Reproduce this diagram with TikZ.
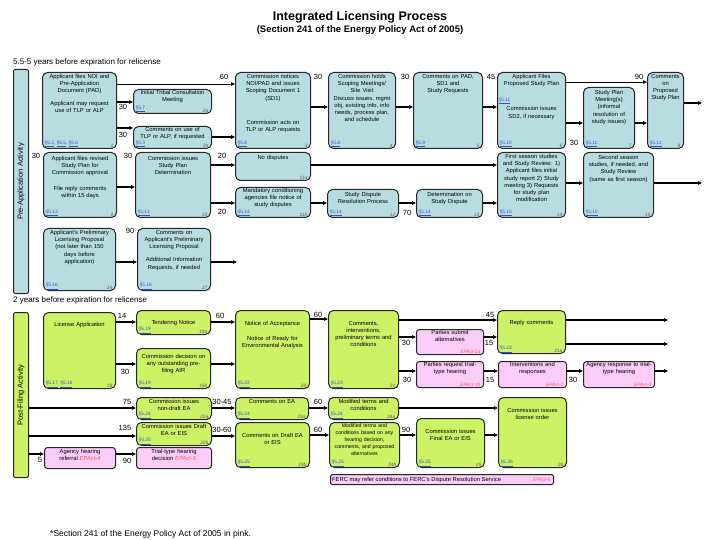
\documentclass[tikz,border=0pt]{standalone}
\usepackage{fontspec}
\setmainfont{Liberation Sans}
\usetikzlibrary{arrows.meta,positioning,calc}
\definecolor{prefill}{HTML}{B8DDE1}
\definecolor{postfill}{HTML}{CCF266}
\definecolor{epfill}{HTML}{FACCF8}
\definecolor{reflink}{HTML}{2F56C8}
\definecolor{idink}{HTML}{6A4B72}
\definecolor{epink}{HTML}{FF5A5A}

\tikzset{
  stage/.style={draw=black!85,line width=1pt,rounded corners=5pt,inner sep=0pt},
  prebox/.style={stage,fill=prefill},
  postbox/.style={stage,fill=postfill},
  epbox/.style={stage,fill=epfill,rounded corners=3pt},
  boxtext/.style={font=\fontsize{5.8}{7.2}\selectfont,align=center,inner sep=0pt},
  reftext/.style={font=\fontsize{4.8}{5}\selectfont,text=reflink,inner sep=1.5pt},
  numtext/.style={font=\fontsize{4.8}{5}\selectfont\itshape,text=idink,inner sep=1.5pt},
  days/.style={font=\fontsize{7.5}{8}\selectfont,inner sep=0pt},
  barlabel/.style={font=\fontsize{7.5}{8}\selectfont,rotate=90},
  flow/.style={-{Triangle[length=4pt,width=3.5pt]},line width=1.1pt},
  thinflow/.style={flow,line width=0.7pt}
}

\newcommand{\sref}[1]{\underline{§#1}}
\newcommand{\epact}[1]{\textcolor{epink}{\itshape #1}}
% [text offset]{name}{x,y}{width}{height}{style}{text}{section}{number}
\newcommand{\ilpbox}[9][2]{%
  \pgfmathsetmacro{\ilptw}{#4-5}%
  \node[#6,anchor=north west,minimum width=#4pt,minimum height=#5pt] (#2) at (#3) {};
  \node[boxtext,text width=\ilptw pt,anchor=north] (#2-t) at ([yshift=-#1pt]#2.north) {#7};
  \node[reftext,anchor=south west] (#2-r) at ([xshift=1pt]#2.south west) {#8};
  \node[numtext,anchor=south east] (#2-n) at ([xshift=-2pt]#2.south east) {#9};%
}
\newcommand{\hconn}[4][flow]{\draw[#1] (#2.east |- 0,#4) -- (#3.west |- 0,#4);}

\begin{document}
\begin{tikzpicture}[x=1pt,y=-1pt,font=\fontsize{5.8}{7.2}\selectfont]
  \fill[white] (0,0) rectangle (720,540);

  \node[font=\fontsize{12.5}{14}\selectfont\bfseries] (title) at (360,17) {Integrated Licensing Process};
  \node[font=\fontsize{9.5}{11}\selectfont\bfseries] (subtitle) at (360,30) {(Section 241 of the Energy Policy Act of 2005)};
  \node[font=\fontsize{8}{9}\selectfont,anchor=west,inner sep=0pt] (prehead) at (13,62) {5.5-5 years before expiration for relicense};

  % pre-application activity
  \node[prebox,rounded corners=2pt,anchor=north west,minimum width=15pt,minimum height=224pt] (prebar) at (13,69) {};
  \node[barlabel] (prebar-t) at (prebar.center) {Pre-Application Activity};

  \ilpbox{n1}{42,72}{74}{76}{prebox}{Applicant files NOI and\\Pre-Application\\Document (PAD)\\[5pt]Applicant may request\\use of TLP or ALP}{\sref{5.3}, \sref{5.5}, \sref{5.6}}{1}
  \ilpbox[1]{n2a}{133,89}{78}{24}{prebox}{Initial Tribal Consultation\\Meeting}{\sref{5.7}}{2a}
  \ilpbox[1]{n2b}{133,126}{78}{22}{prebox}{Comments on use of\\TLP or ALP, if requested}{\sref{5.3}}{2b}
  \ilpbox{n3}{235,72}{75}{76}{prebox}{Commission notices\\NOI/PAD and issues\\Scoping Document 1\\(SD1)\\[17pt]Commission acts on\\TLP or ALP requests}{\sref{5.8}}{3}
  \ilpbox{n4}{328,72}{67}{76}{prebox}{Commission holds\\Scoping Meetings/\\Site Visit\\Discuss issues, mgmt\\obj, existing info, info\\needs, process plan,\\and schedule}{\sref{5.8}}{4}
  \ilpbox{n5}{413,72}{69}{76}{prebox}{Comments on PAD,\\SD1 and\\Study Requests}{\sref{5.9}}{5}
  \ilpbox{n6}{497,72}{68}{76}{prebox}{Applicant Files\\Proposed Study Plan\\[18pt]Commission issues\\SD2, if necessary}{\sref{5.10}}{6}
  \node[reftext,anchor=west] (n6-r2) at (n6.west |- 0,101) {\sref{5.11}};
  \ilpbox[3]{n7}{583,87}{51}{61}{prebox}{Study Plan\\Meeting(s)\\(informal\\resolution of\\study issues)}{\sref{5.11}}{7}
  \ilpbox{n8}{647,72}{36}{76}{prebox}{Comments\\on\\Proposed\\Study Plan}{\sref{5.12}}{8}

  \ilpbox[4]{n9}{43,152}{73}{65}{prebox}{Applicant files revised\\Study Plan for\\Commission approval\\[8pt]File reply comments\\within 15 days}{\sref{5.13}}{9}
  \ilpbox[4]{n10}{135,152}{75}{65}{prebox}{Commission issues\\Study Plan\\Determination}{\sref{5.13}}{10}
  \ilpbox[3]{n11a}{235,152}{75}{28}{prebox}{No disputes}{}{11a}
  \ilpbox[1]{n11b}{235,187}{75}{30}{prebox}{Mandatory conditioning\\agencies file notice of\\study disputes}{\sref{5.14}}{11b}
  \ilpbox[3]{n12}{327,189}{71}{28}{prebox}{Study Dispute\\Resolution Process}{\sref{5.14}}{12}
  \ilpbox[3]{n13}{416,189}{66}{28}{prebox}{Determination on\\Study Dispute}{\sref{5.14}}{13}
  \ilpbox[2]{n14}{497,152}{68}{65}{prebox}{First season studies\\and Study Review: 1)\\Applicant files initial\\study report 2) Study\\meeting 3) Requests\\for study plan\\modification}{\sref{5.15}}{14}
  \ilpbox[3]{n15}{583,152}{70}{65}{prebox}{Second season\\studies, if needed, and\\Study Review\\(same as first season)}{\sref{5.15}}{15}

  \ilpbox[2]{n16}{43,228}{72}{62}{prebox}{Applicant's Preliminary\\Licensing Proposal\\(not later than 150\\days before\\application)}{\sref{5.16}}{16}
  \ilpbox[2]{n17}{137,228}{73}{62}{prebox}{Comments on\\Applicant's Preliminary\\Licensing Proposal\\[6pt]Additional Information\\Requests, if needed}{\sref{5.16}}{17}

  \hconn[thinflow]{n1}{n3}{84}
  \hconn{n1}{n2a}{102}
  \hconn{n1}{n2b}{128}
  \hconn{n2b}{n3}{137}
  \hconn{n3}{n4}{107}
  \hconn{n4}{n5}{107}
  \hconn{n5}{n6}{107}
  \hconn[thinflow]{n6}{n8}{82}
  \hconn{n6}{n7}{123}
  \hconn{n7}{n8}{123}
  \coordinate (out8) at (702,103);
  \draw[flow] (n8.east |- out8) -- (out8);
  \hconn{n9}{n10}{187}
  \hconn{n10}{n11a}{165}
  \hconn{n10}{n11b}{203}
  \hconn{n11b}{n12}{203}
  \hconn{n12}{n13}{203}
  \hconn{n11a}{n14}{165}
  \hconn{n13}{n14}{203}
  \hconn{n14}{n15}{183}
  \coordinate (out15) at (702,183);
  \draw[flow] (n15.east |- out15) -- (out15);
  \hconn{n16}{n17}{262}
  \coordinate (out17) at (237,262);
  \draw[flow] (n17.east |- out17) -- (out17);

  \node[days] (d1) at (224,77) {60};
  \node[days] (d2) at (123,107) {30};
  \node[days] (d3) at (123,135) {30};
  \node[days] (d4) at (318,77) {30};
  \node[days] (d5) at (405,77) {30};
  \node[days] (d6) at (491,77) {45};
  \node[days] (d7) at (639,77) {90};
  \node[days] (d8) at (574,143) {30};
  \node[days] (d9) at (36,156) {30};
  \node[days] (d10) at (128,156) {30};
  \node[days] (d11) at (222,156) {20};
  \node[days] (d12) at (222,212) {20};
  \node[days] (d13) at (407,213) {70};
  \node[days] (d14) at (130,231) {90};

  % post-filing activity
  \node[font=\fontsize{8}{9}\selectfont,anchor=west,inner sep=0pt] (posthead) at (13,300) {2 years before expiration for relicense};
  \node[postbox,rounded corners=2pt,anchor=north west,minimum width=15pt,minimum height=165pt] (postbar) at (13,312) {};
  \node[barlabel] (postbar-t) at (postbar.center) {Post-Filing Activity};

  \ilpbox[10]{n18}{43,312}{72}{76}{postbox}{License Application}{\sref{5.17}, \sref{5.18}}{18}
  \ilpbox[10]{n19a}{136,310}{74}{24}{postbox}{Tendering Notice}{\sref{5.19}}{19a}
  \ilpbox[6]{n19b}{136,348}{74}{40}{postbox}{Commission decision on\\any outstanding pre-\\filing AIR}{\sref{5.19}}{19b}
  \ilpbox[11]{n20}{235,310}{74}{78}{postbox}{Notice of Acceptance\\[8pt]Notice of Ready for\\Environmental Analysis}{\sref{5.22}}{20}
  \ilpbox[11]{n21}{328,310}{70}{78}{postbox}{Comments,\\interventions,\\preliminary terms and\\conditions}{\sref{5.23}}{21}
  \ilpbox[1]{p1a}{416,329}{67}{25}{epbox}{Parties submit\\alternatives}{}{\epact{EPAct-1a}}
  \ilpbox[10]{n21a}{497,310}{68}{43}{postbox}{Reply comments}{\sref{5.23}}{21a}
  \ilpbox[1]{p1b}{416,361}{67}{26}{epbox}{Parties request trial-\\type hearing}{}{\epact{EPAct-1b}}
  \ilpbox[1]{p2}{498,361}{68}{26}{epbox}{Interventions and\\responses}{}{\epact{EPAct-2}}
  \ilpbox[1]{p3}{583,361}{71}{26}{epbox}{Agency response to trial-\\type hearing}{}{\epact{EPAct-3}}
  \ilpbox[2]{n22a}{136,397}{75}{22}{postbox}{Commission issues\\non-draft EA}{\sref{5.24}}{22a}
  \ilpbox[2]{n23a}{235,397}{73}{22}{postbox}{Comments on EA}{\sref{5.24}}{23a}
  \ilpbox[2]{n24a}{328,397}{70}{22}{postbox}{Modified terms and\\conditions}{\sref{5.24}}{24a}
  \ilpbox[2]{n22b}{136,422}{75}{23}{postbox}{Commission issues Draft\\EA or EIS}{\sref{5.25}}{22b}
  \ilpbox[11]{n23b}{235,422}{74}{45}{postbox}{Comments on Draft EA\\or EIS}{\sref{5.25}}{23b}
  \ilpbox[2]{n24b}{329,422}{70}{45}{postbox}{\fontsize{5.2}{6.8}\selectfont Modified terms and\\conditions based on any\\hearing decision,\\comments, and proposed\\alternatives}{\sref{5.25}}{24b}
  \ilpbox[11]{n25}{416,418}{68}{49}{postbox}{Commission issues\\Final EA or EIS}{\sref{5.25}}{25}
  \ilpbox[11]{n26}{498,397}{68}{70}{postbox}{Commission issues\\license order}{\sref{5.26}}{26}
  \ilpbox[2]{p4}{44,447}{71}{21}{epbox}{Agency hearing\\referral \epact{EPAct-4}}{}{}
  \ilpbox[2]{p5}{136,447}{75}{21}{epbox}{Trial-type hearing\\decision \epact{EPAct-5}}{}{}

  \node[epbox,rounded corners=1.5pt,anchor=north west,minimum width=223pt,minimum height=10pt] (ferc) at (330,474) {};
  \node[boxtext,anchor=west] (ferc-t) at ([xshift=2pt]ferc.west) {FERC may refer conditions to FERC's Dispute Resolution Service};
  \node[numtext,anchor=east] (ferc-n) at ([xshift=-2pt]ferc.east) {\epact{EPAct-6}};

  \hconn{n18}{n19a}{322}
  \hconn{n18}{n19b}{364}
  \hconn{n19a}{n20}{322}
  \hconn{n19b}{n20}{364}
  \hconn{n20}{n21}{319}
  \hconn{n21}{n21a}{320}
  \hconn{n21}{p1a}{337}
  \hconn{p1a}{n21a}{337}
  \coordinate (out21a) at (668,320);
  \coordinate (out21b) at (668,344);
  \draw[flow] (n21a.east |- out21a) -- (out21a);
  \draw[flow] (n21a.east |- out21b) -- (out21b);
  \hconn{n21}{p1b}{371}
  \hconn{p1b}{p2}{371}
  \hconn{p2}{p3}{371}
  \coordinate (outp3) at (668,371);
  \draw[flow] (p3.east |- outp3) -- (outp3);
  \hconn{postbar}{n22a}{408}
  \hconn{n22a}{n23a}{408}
  \hconn{n23a}{n24a}{408}
  \hconn{n24a}{n26}{408}
  \hconn{postbar}{n22b}{436}
  \hconn{n22b}{n23b}{436}
  \hconn{n23b}{n24b}{435}
  \hconn{n24b}{n25}{435}
  \hconn{n25}{n26}{435}
  \hconn{postbar}{p4}{454}
  \hconn{p4}{p5}{454}

  \node[days] (d15) at (122,316) {14};
  \node[days] (d16) at (125,372) {30};
  \node[days] (d17) at (220,316) {60};
  \node[days] (d18) at (318,315) {60};
  \node[days] (d19) at (490,315) {45};
  \node[days] (d20) at (406,343) {30};
  \node[days] (d21) at (489,343) {15};
  \node[days] (d22) at (407,380) {30};
  \node[days] (d23) at (490,380) {15};
  \node[days] (d24) at (573,380) {30};
  \node[days] (d25) at (127,402) {75};
  \node[days] (d26) at (222,402) {30-45};
  \node[days] (d27) at (318,402) {60};
  \node[days] (d28) at (125,428) {135};
  \node[days] (d29) at (222,430) {30-60};
  \node[days] (d30) at (318,430) {60};
  \node[days] (d31) at (406,430) {90};
  \node[days] (d32) at (40,460) {5};
  \node[days] (d33) at (127,461) {90};

  \node[font=\fontsize{8.5}{10}\selectfont,anchor=west,inner sep=0pt] (foot) at (50,534) {*Section 241 of the Energy Policy Act of 2005 in pink.};
\end{tikzpicture}
\end{document}
